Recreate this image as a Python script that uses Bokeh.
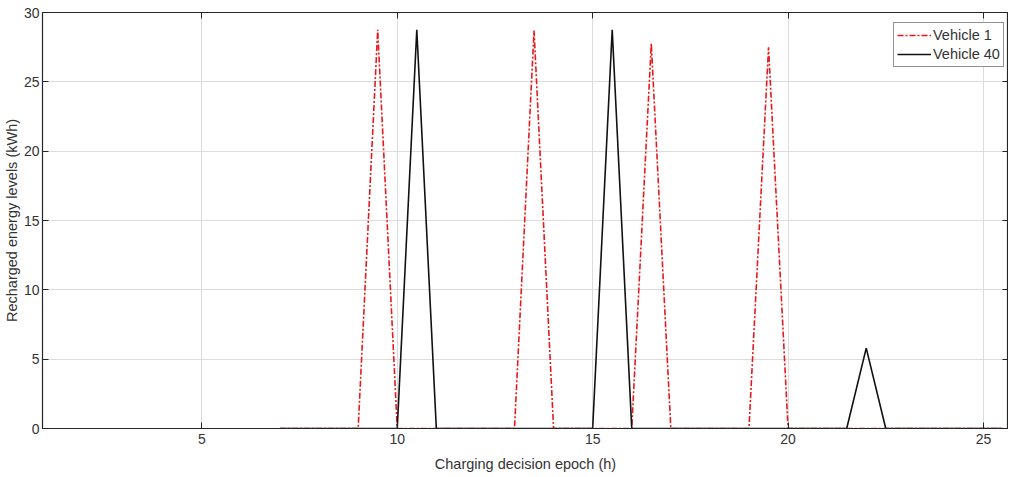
from bokeh.plotting import figure
from bokeh.models import Range1d, LinearAxis, FixedTicker, Legend, LegendItem, CustomJSTickFormatter
from bokeh.embed import file_html
from bokeh.resources import INLINE

# Data
v1_x = [7, 9, 9.5, 10, 13, 13.5, 14, 16, 16.5, 17, 19, 19.5, 20, 25.5]
v1_y = [0, 0, 28.75, 0, 0, 28.7, 0, 0, 27.75, 0, 0, 27.5, 0, 0]
v40_x = [7, 10, 10.5, 11, 15, 15.5, 16, 21.5, 22, 22.5, 25.5]
v40_y = [0, 0, 28.75, 0, 0, 28.75, 0, 0, 5.8, 0, 0]
x_ticks = [5, 10, 15, 20, 25]
y_ticks = [0, 5, 10, 15, 20, 25, 30]

FONT = "Liberation Sans"
TXT = "#333333"

p = figure(width=1008, height=474, output_backend="svg", toolbar_location=None,
           x_range=Range1d(0.923, 25.64), y_range=Range1d(0, 30),
           min_border_left=36, min_border_right=0, min_border_top=12, min_border_bottom=5)
p.background_fill_color = "white"
p.border_fill_color = "white"
p.outline_line_color = "#262626"
p.outline_line_width = 1.2

p.xaxis.ticker = FixedTicker(ticks=x_ticks)
p.yaxis.ticker = FixedTicker(ticks=y_ticks)
for ax in (p.xaxis, p.yaxis):
    ax.major_tick_in = 6
    ax.major_tick_out = 0
    ax.minor_tick_in = 0
    ax.minor_tick_out = 0
    ax.axis_line_color = "#262626"
    ax.major_tick_line_color = "#262626"
    ax.major_label_text_font = FONT
    ax.major_label_text_font_size = "14px"
    ax.major_label_text_color = TXT
    ax.axis_label_text_font = FONT
    ax.axis_label_text_font_size = "14.5px"
    ax.axis_label_text_font_style = "normal"
    ax.axis_label_text_color = TXT
p.xaxis.major_label_standoff = 5
p.xaxis.axis_label_standoff = 9
p.yaxis.major_label_standoff = 3
p.yaxis.axis_label_standoff = 1
p.xaxis.axis_label = "Charging decision epoch (h)"
p.yaxis.axis_label = "Recharged energy levels (kWh)"

blank = CustomJSTickFormatter(code="return ''")
top = LinearAxis(ticker=FixedTicker(ticks=x_ticks), formatter=blank, major_tick_in=6, major_tick_out=0,
                 minor_tick_in=0, minor_tick_out=0, major_label_standoff=0,
                 axis_line_color="#262626", major_tick_line_color="#262626")
right = LinearAxis(ticker=FixedTicker(ticks=y_ticks), formatter=blank, major_tick_in=6, major_tick_out=0,
                   minor_tick_in=0, minor_tick_out=0, major_label_standoff=0,
                   axis_line_color="#262626", major_tick_line_color="#262626")
p.add_layout(top, "above")
p.add_layout(right, "right")

p.xgrid.ticker = FixedTicker(ticks=x_ticks)
p.ygrid.ticker = FixedTicker(ticks=y_ticks)
p.grid.grid_line_color = "#dcdcdc"
p.grid.grid_line_width = 1

r1 = p.line(v1_x, v1_y, line_color="#e8191d", line_width=1.6, line_dash="6 2 2 2")
r40 = p.line(v40_x, v40_y, line_color="#111111", line_width=1.6)

legend = Legend(items=[LegendItem(label="Vehicle 1", renderers=[r1]),
                       LegendItem(label="Vehicle 40", renderers=[r40])],
                location=(851, 361))
legend.label_text_font = FONT
legend.label_text_font_size = "14.5px"
legend.label_text_color = TXT
legend.border_line_color = "#262626"
legend.border_line_width = 1.2
legend.glyph_width = 34
legend.glyph_height = 18
legend.label_height = 18
legend.spacing = 1
legend.padding = 3
legend.margin = 0
legend.label_standoff = 2
legend.background_fill_alpha = 1
p.add_layout(legend)

open("out.html", "w").write(file_html(p, INLINE))
